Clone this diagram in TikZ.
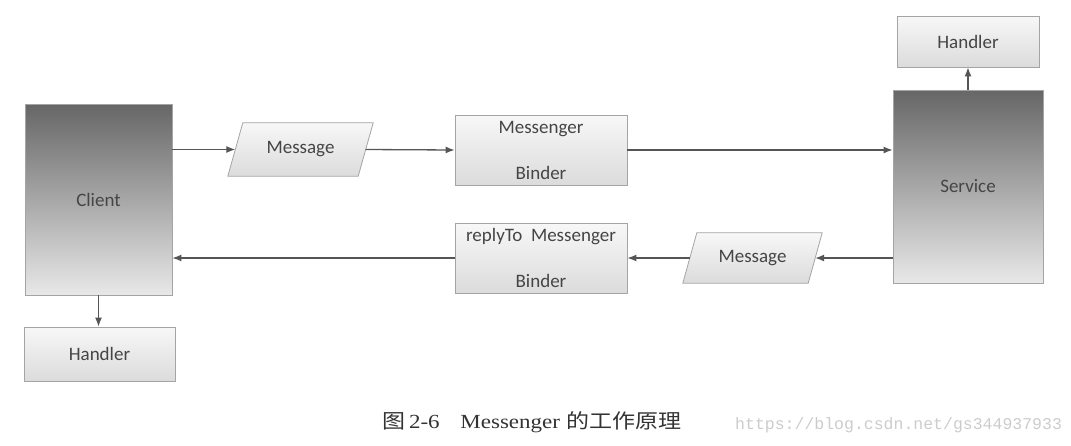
\documentclass[tikz,border=0pt]{standalone}
\usepackage{fontspec}
\setmainfont{Carlito}
\newfontfamily\capfont{Liberation Serif}
\newfontfamily\cjk{Noto Sans CJK SC}
\newfontfamily\wmfont{Liberation Mono}
\usetikzlibrary{calc, positioning, arrows.meta, backgrounds}
\definecolor{lineg}{HTML}{555555}
\definecolor{textg}{HTML}{454545}
\definecolor{edgeg}{HTML}{A4A4A4}
\tikzset{
  boxtext/.style={text=textg, font=\fontsize{19}{23}\selectfont, inner sep=0pt, align=center},
  darkbox/.style={boxtext, draw=edgeg, line width=0.8pt, top color=black!60, bottom color=black!9},
  lightbox/.style={boxtext, draw=edgeg, line width=0.8pt, top color=black!3, bottom color=black!14},
  msgshape/.style={draw=edgeg, line width=0.8pt, top color=black!3, bottom color=black!14},
  arr/.style={draw=lineg, line width=1.3pt, -{Latex[length=9pt,width=7pt]}},
}
\begin{document}
\begin{tikzpicture}[x=1pt, y=-1pt]
	\useasboundingbox (0,0) rectangle (1071,445);
	% client side
	\node[darkbox, minimum width=147pt, minimum height=191pt] (client) at (98.5,199.5) {Client};
	\node[lightbox, minimum width=151pt, minimum height=54pt] (hclient) at (99.5,354) {Handler};
	% service side
	\node[darkbox, minimum width=150pt, minimum height=193pt] (service) at (968,186.5) {Service};
	\node[lightbox, minimum width=142pt, minimum height=51pt] (hservice) at (968,41.5) {Handler};
	% binders
	\node[lightbox, minimum width=172pt, minimum height=70pt] (binder) at (541,150) {Messenger\\[23pt]Binder};
	\node[lightbox, minimum width=172pt, minimum height=70pt] (reply) at (541,258) {replyTo\ \ Messenger\\[23pt]Binder};
	% messages
	\node[boxtext, minimum width=130pt, minimum height=53pt] (msg1) at (300.5,149.5) {Message};
	\node[boxtext, minimum width=125pt, minimum height=50pt] (msg2) at (752.5,258) {Message};
	\begin{scope}[on background layer]
		\draw[msgshape] ($(msg1.south west)+(-7.5,0)$) -- ($(msg1.north west)+(7.5,0)$) -- ($(msg1.north east)+(7.5,0)$) -- ($(msg1.south east)+(-7.5,0)$) -- cycle;
		\draw[msgshape] ($(msg2.south west)+(-7,0)$) -- ($(msg2.north west)+(7,0)$) -- ($(msg2.north east)+(7,0)$) -- ($(msg2.south east)+(-7,0)$) -- cycle;
	\end{scope}
	% connectors
	\draw[arr] (client.east |- msg1) -- (msg1.west);
	\draw[arr] (msg1.east) -- (binder.west);
	\draw[arr] (binder.east) -- (binder.east -| service.west);
	\draw[arr] (service.west |- msg2) -- (msg2.east);
	\draw[arr] (msg2.west) -- (reply.east);
	\draw[arr] (reply.west) -- (reply.west -| client.east);
	\draw[arr] (client.south) -- (client.south |- hclient.north);
	\draw[arr] (service.north) -- (hservice.south);
	% caption
	\node[anchor=base west, inner sep=0pt, text=black!80, font=\fontsize{20}{24}\selectfont, xscale=1.15] (caption) at (382,428) {\cjk 图\capfont\,2-6\hspace{0.9em}Messenger\hspace{0.3em}\cjk 的工作原理};
	\node[anchor=base west, inner sep=0pt, text=black!20, font=\fontsize{16.5}{20}\selectfont] (mark) at (735,429) {\wmfont https://blog.csdn.net/gs344937933};
\end{tikzpicture}
\end{document}
